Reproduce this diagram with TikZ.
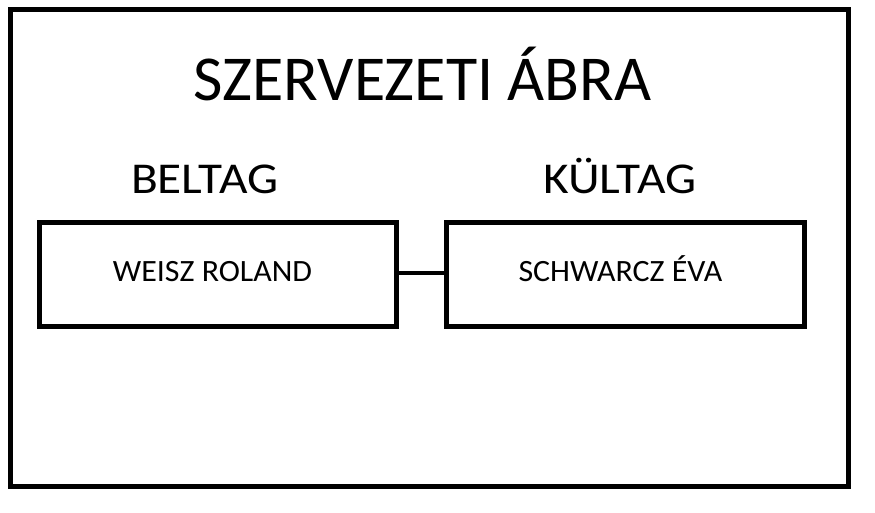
\documentclass[tikz,border=0pt]{standalone}
\usepackage{fontspec}
\usepackage{graphicx}
\setmainfont{Carlito}
\begin{document}
\begin{tikzpicture}[x=1pt,y=-1pt,
  frame/.style={draw=black,line width=5pt},
  member/.style={draw=black,line width=5pt,minimum width=357.5pt,minimum height=104pt,inner sep=0pt},
  link/.style={draw=black,line width=4.5pt},
  txt/.style={anchor=base,inner sep=0pt}]
\useasboundingbox (0,0) rectangle (875,513);
\draw[frame] (10.5,9.5) rectangle (848.5,486.5);
\node[txt,font=\fontsize{64}{76}\selectfont] (title) at (422.5,101) {SZERVEZETI ÁBRA};
\node[txt,font=\fontsize{44}{52}\selectfont] (bel) at (204.7,193.5) {\scalebox{1.12}[1]{BELTAG}};
\node[txt,font=\fontsize{44}{52}\selectfont] (kul) at (619.7,193.5) {\scalebox{1.12}[1]{KÜLTAG}};
\node[member] (b1) at (217.75,274.5) {};
\node[member] (b2) at (625.25,274.5) {};
\node[txt,font=\fontsize{31}{36}\selectfont] (n1) at (212.5,281.5) {\scalebox{1.03}[1]{WEISZ ROLAND}};
\node[txt,font=\fontsize{31}{36}\selectfont] (n2) at (620.5,281.5) {\scalebox{1.03}[1]{SCHWARCZ ÉVA}};
\draw[link] (b1.east |- 0,273) -- (b2.west |- 0,273);
\end{tikzpicture}
\end{document}
